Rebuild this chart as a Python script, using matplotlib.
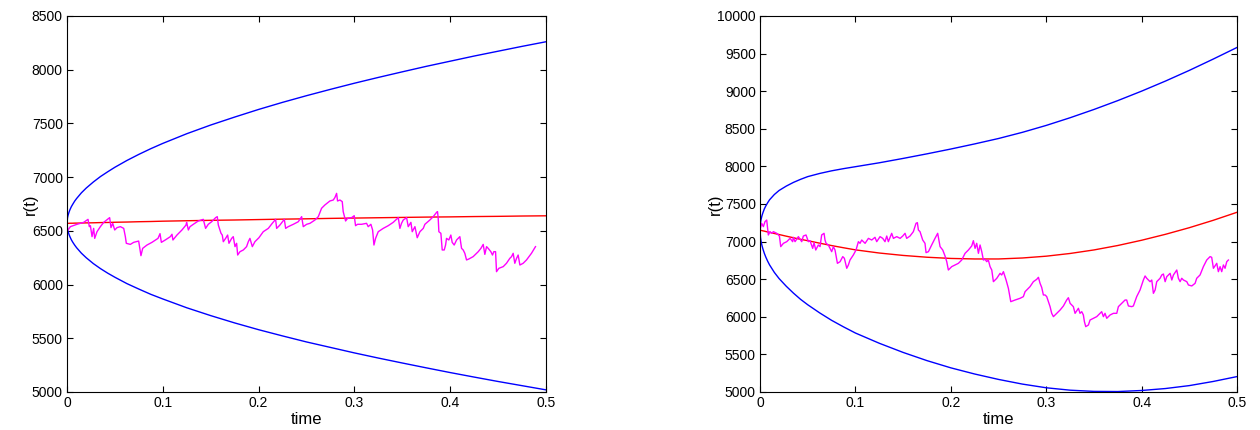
import numpy as np
import matplotlib.pyplot as plt

plt.rcParams['font.family'] = ['Liberation Sans', 'DejaVu Sans']

# time grid of the smooth curves (denser near 0 where the bands open up)
band_t = [0, 0.0005, 0.001, 0.002, 0.003, 0.0045, 0.006, 0.008, 0.01, 0.015,
          0.02, 0.0275, 0.035, 0.0425, 0.05, 0.0625, 0.075, 0.0875, 0.1, 0.125,
          0.15, 0.175, 0.2, 0.225, 0.25, 0.275, 0.3, 0.325, 0.35, 0.375,
          0.4, 0.425, 0.45, 0.475, 0.5]

# ---- left panel ----
left_mean = [6570, 6570, 6570, 6570, 6571, 6571, 6571, 6572, 6572, 6573,
             6574, 6575, 6577, 6578, 6580, 6582, 6585, 6587, 6590, 6594,
             6598, 6601, 6605, 6609, 6612, 6616, 6619, 6622, 6625, 6628,
             6630, 6633, 6635, 6638, 6640]
left_upper = [6570, 6621, 6642, 6672, 6696, 6725, 6748, 6777, 6801, 6854,
              6898, 6955, 7006, 7050, 7092, 7155, 7212, 7265, 7314, 7404,
              7485, 7559, 7630, 7696, 7758, 7817, 7874, 7928, 7980, 8031,
              8079, 8127, 8172, 8217, 8260]
left_lower = [6570, 6519, 6498, 6468, 6446, 6417, 6394, 6367, 6343, 6292,
              6250, 6195, 6148, 6106, 6068, 6009, 5958, 5909, 5866, 5784,
              5711, 5643, 5580, 5522, 5466, 5415, 5364, 5316, 5270, 5225,
              5181, 5139, 5098, 5059, 5020]

left_path_t = [0.001, 0.0035, 0.0104, 0.0174, 0.0219, 0.0233, 0.0244, 0.0261, 0.0278, 0.0289,
               0.0313, 0.0348, 0.0383, 0.0445, 0.0459, 0.0477, 0.0498, 0.0522, 0.0557, 0.0592,
               0.0609, 0.0619, 0.0661, 0.0696, 0.0748, 0.0772, 0.0790, 0.0835, 0.0887, 0.0950,
               0.0971, 0.0985, 0.1026, 0.1079, 0.1096, 0.1106, 0.1148, 0.1200, 0.1242, 0.1249,
               0.1267, 0.1284, 0.1319, 0.1371, 0.1423, 0.1447, 0.1475, 0.1510, 0.1552, 0.1569,
               0.1580, 0.1608, 0.1621, 0.1632, 0.1656, 0.1677, 0.1691, 0.1719, 0.1736, 0.1754,
               0.1771, 0.1782, 0.1806, 0.1841, 0.1875, 0.1893, 0.1910, 0.1935, 0.1962, 0.2004,
               0.2049, 0.2102, 0.2143, 0.2178, 0.2189, 0.2223, 0.2269, 0.2283, 0.2310, 0.2363,
               0.2415, 0.2450, 0.2467, 0.2502, 0.2537, 0.2589, 0.2624, 0.2658, 0.2693, 0.2745,
               0.2780, 0.2797, 0.2815, 0.2825, 0.2850, 0.2874, 0.2884, 0.2909, 0.2930, 0.2972,
               0.2999, 0.3013, 0.3034, 0.3076, 0.3128, 0.3145, 0.3173, 0.3191, 0.3205, 0.3222,
               0.3250, 0.3302, 0.3354, 0.3406, 0.3459, 0.3476, 0.3493, 0.3511, 0.3546, 0.3563,
               0.3591, 0.3605, 0.3633, 0.3657, 0.3685, 0.3720, 0.3737, 0.3789, 0.3824, 0.3859,
               0.3869, 0.3876, 0.3883, 0.3904, 0.3918, 0.3939, 0.3953, 0.3963, 0.3987, 0.4008,
               0.4022, 0.4043, 0.4068, 0.4102, 0.4120, 0.4137, 0.4154, 0.4172, 0.4196, 0.4241,
               0.4294, 0.4322, 0.4346, 0.4363, 0.4381, 0.4398, 0.4426, 0.4443, 0.4457, 0.4475,
               0.4485, 0.4509, 0.4555, 0.4589, 0.4624, 0.4642, 0.4659, 0.4676, 0.4694, 0.4711,
               0.4729, 0.4763, 0.4798, 0.4850, 0.4892]
left_path_r = [6508, 6539, 6561, 6579, 6607, 6539, 6548, 6446, 6523, 6430,
               6492, 6539, 6579, 6623, 6530, 6570, 6508, 6530, 6539, 6523,
               6446, 6384, 6374, 6393, 6405, 6269, 6337, 6368, 6393, 6430,
               6474, 6393, 6415, 6446, 6468, 6415, 6461, 6508, 6554, 6579,
               6508, 6539, 6561, 6592, 6607, 6523, 6561, 6585, 6623, 6632,
               6554, 6477, 6461, 6399, 6430, 6461, 6384, 6430, 6446, 6353,
               6384, 6275, 6306, 6322, 6353, 6399, 6430, 6353, 6399, 6436,
               6492, 6523, 6570, 6607, 6523, 6554, 6607, 6523, 6539, 6561,
               6585, 6632, 6539, 6561, 6570, 6601, 6632, 6710, 6741, 6778,
               6787, 6809, 6849, 6778, 6787, 6772, 6679, 6592, 6617, 6623,
               6641, 6548, 6561, 6561, 6570, 6539, 6561, 6508, 6368, 6430,
               6492, 6523, 6548, 6579, 6623, 6523, 6570, 6601, 6623, 6539,
               6579, 6492, 6539, 6436, 6492, 6523, 6561, 6601, 6632, 6672,
               6679, 6617, 6492, 6477, 6322, 6322, 6368, 6430, 6415, 6461,
               6393, 6368, 6415, 6446, 6337, 6322, 6291, 6229, 6238, 6260,
               6306, 6337, 6374, 6281, 6353, 6337, 6306, 6275, 6306, 6306,
               6120, 6151, 6167, 6198, 6244, 6260, 6291, 6198, 6244, 6275,
               6182, 6198, 6229, 6291, 6353]

# ---- right panel ----
right_mean = [7152, 7151, 7149, 7146, 7143, 7139, 7134, 7128, 7123, 7108,
              7094, 7072, 7051, 7030, 7012, 6979, 6947, 6918, 6890, 6848,
              6816, 6792, 6776, 6769, 6769, 6782, 6806, 6842, 6889, 6948,
              7018, 7097, 7185, 7283, 7390]
right_upper = [7152, 7249, 7289, 7343, 7383, 7434, 7473, 7517, 7556, 7626,
               7680, 7738, 7787, 7828, 7864, 7906, 7941, 7970, 7996, 8048,
               8106, 8167, 8231, 8299, 8371, 8453, 8545, 8647, 8757, 8875,
               9001, 9135, 9277, 9427, 9582]
right_lower = [7152, 7053, 7009, 6949, 6903, 6844, 6795, 6739, 6690, 6590,
               6508, 6406, 6315, 6232, 6160, 6052, 5953, 5866, 5784, 5648,
               5526, 5417, 5321, 5239, 5167, 5105, 5056, 5024, 5008, 5006,
               5020, 5046, 5085, 5140, 5205]

right_path_t = [0.0, 0.0017, 0.0035, 0.0052, 0.0070, 0.0087, 0.0105, 0.0122, 0.0140, 0.0175,
                0.0203, 0.0217, 0.0245, 0.0280, 0.0315, 0.0342, 0.0349, 0.0367, 0.0402, 0.0437,
                0.0454, 0.0482, 0.0507, 0.0524, 0.0552, 0.0566, 0.0584, 0.0611, 0.0629, 0.0646,
                0.0671, 0.0681, 0.0692, 0.0716, 0.0734, 0.0751, 0.0769, 0.0786, 0.0811, 0.0839,
                0.0867, 0.0884, 0.0909, 0.0926, 0.0943, 0.0978, 0.1006, 0.1031, 0.1048, 0.1066,
                0.1101, 0.1136, 0.1171, 0.1205, 0.1223, 0.1258, 0.1286, 0.1310, 0.1328, 0.1345,
                0.1380, 0.1398, 0.1433, 0.1468, 0.1496, 0.1520, 0.1537, 0.1572, 0.1607, 0.1635,
                0.1649, 0.1660, 0.1677, 0.1705, 0.1729, 0.1740, 0.1765, 0.1799, 0.1834, 0.1862,
                0.1887, 0.1915, 0.1939, 0.1957, 0.1974, 0.2009, 0.2044, 0.2079, 0.2114, 0.2149,
                0.2184, 0.2219, 0.2236, 0.2254, 0.2271, 0.2289, 0.2306, 0.2324, 0.2341, 0.2359,
                0.2376, 0.2393, 0.2411, 0.2429, 0.2446, 0.2464, 0.2481, 0.2516, 0.2533, 0.2551,
                0.2579, 0.2603, 0.2628, 0.2673, 0.2726, 0.2760, 0.2778, 0.2795, 0.2830, 0.2865,
                0.2900, 0.2918, 0.2935, 0.2952, 0.2970, 0.2988, 0.3005, 0.3040, 0.3057, 0.3075,
                0.3110, 0.3145, 0.3180, 0.3214, 0.3232, 0.3250, 0.3284, 0.3302, 0.3337, 0.3354,
                0.3372, 0.3389, 0.3400, 0.3414, 0.3442, 0.3459, 0.3494, 0.3529, 0.3564, 0.3581,
                0.3599, 0.3616, 0.3634, 0.3669, 0.3704, 0.3739, 0.3756, 0.3791, 0.3826, 0.3843,
                0.3861, 0.3896, 0.3913, 0.3948, 0.3983, 0.4018, 0.4036, 0.4053, 0.4088, 0.4106,
                0.4123, 0.4141, 0.4158, 0.4193, 0.4211, 0.4228, 0.4246, 0.4263, 0.4298, 0.4316,
                0.4333, 0.4368, 0.4385, 0.4403, 0.4420, 0.4438, 0.4473, 0.4490, 0.4525, 0.4560,
                0.4577, 0.4612, 0.4647, 0.4682, 0.4717, 0.4734, 0.4752, 0.4787, 0.4804, 0.4822,
                0.4839, 0.4857, 0.4874, 0.4892, 0.4909]
right_path_r = [7154, 7243, 7199, 7265, 7287, 7088, 7132, 7110, 7132, 7110,
                7074, 6933, 6977, 6999, 7043, 6999, 7057, 6999, 7066, 6999,
                7074, 7088, 6999, 7012, 6910, 6986, 6888, 6955, 6933, 7088,
                7110, 7021, 6977, 6955, 6910, 6866, 6933, 6888, 6711, 6733,
                6800, 6778, 6645, 6689, 6755, 6822, 6888, 6999, 6977, 7021,
                6977, 7043, 7021, 7057, 6999, 7066, 7043, 6999, 7074, 6999,
                7110, 7043, 7066, 7043, 7074, 7110, 7043, 7074, 7132, 7243,
                7252, 7154, 7132, 7021, 6977, 6853, 6866, 6955, 7043, 7110,
                6933, 6888, 6809, 6733, 6622, 6667, 6689, 6711, 6755, 6844,
                6888, 6942, 7012, 6910, 6977, 6844, 6955, 6866, 6755, 6764,
                6733, 6755, 6667, 6622, 6467, 6489, 6511, 6578, 6556, 6600,
                6489, 6379, 6201, 6223, 6246, 6268, 6334, 6356, 6401, 6467,
                6498, 6525, 6445, 6392, 6290, 6290, 6268, 6135, 6046, 6002,
                6046, 6090, 6144, 6223, 6254, 6179, 6135, 6046, 6113, 6046,
                6068, 6024, 5935, 5869, 5891, 5957, 5980, 6002, 6046, 6068,
                6002, 6046, 5980, 6024, 6046, 6046, 6135, 6179, 6223, 6223,
                6144, 6135, 6144, 6268, 6356, 6489, 6543, 6512, 6467, 6489,
                6312, 6356, 6467, 6512, 6556, 6569, 6467, 6534, 6578, 6489,
                6556, 6622, 6512, 6467, 6512, 6489, 6467, 6423, 6410, 6445,
                6512, 6556, 6667, 6755, 6800, 6791, 6645, 6711, 6600, 6667,
                6600, 6689, 6645, 6733, 6755]

x_ticks = [0, 0.1, 0.2, 0.3, 0.4, 0.5]
x_ticklabels = ['0', '0.1', '0.2', '0.3', '0.4', '0.5']
left_yticks = [5000, 5500, 6000, 6500, 7000, 7500, 8000, 8500]
right_yticks = [5000, 5500, 6000, 6500, 7000, 7500, 8000, 8500, 9000, 9500, 10000]


def draw_panel(ax, mean, upper, lower, path_t, path_r, yticks):
    ax.plot(band_t, upper, color='#0000ff', lw=1)
    ax.plot(band_t, lower, color='#0000ff', lw=1)
    ax.plot(band_t, mean, color='#ff0000', lw=1)
    ax.plot(path_t, path_r, color='#ff00ff', lw=1)
    ax.set_xlim(0, 0.5)
    ax.set_ylim(yticks[0], yticks[-1])
    ax.set_xticks(x_ticks)
    ax.set_xticklabels(x_ticklabels)
    ax.set_yticks(yticks)
    ax.tick_params(direction='in', top=True, right=True, labelsize=10,
                   length=4, width=0.8, pad=3)
    for s in ax.spines.values():
        s.set_linewidth(0.8)
    ax.set_xlabel('time', fontsize=12, labelpad=1)
    ax.set_ylabel('r(t)', fontsize=12, labelpad=-4)


fig = plt.figure(figsize=(12.6, 4.3), dpi=100)
ax1 = fig.add_axes([0.0532, 0.0884, 0.380, 0.8744])
ax2 = fig.add_axes([0.6032, 0.0884, 0.3786, 0.8744])

draw_panel(ax1, left_mean, left_upper, left_lower, left_path_t, left_path_r, left_yticks)
draw_panel(ax2, right_mean, right_upper, right_lower, right_path_t, right_path_r, right_yticks)

fig.savefig('out.png', dpi=100)
